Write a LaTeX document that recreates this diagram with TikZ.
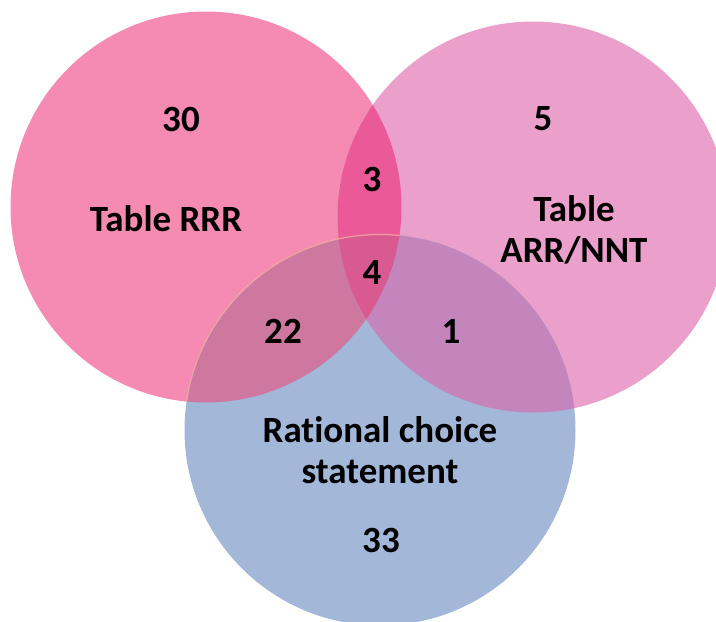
\documentclass[tikz,border=0pt]{standalone}
\usepackage{fontspec}
\setmainfont{Carlito}[RawFeature=-liga]
\definecolor{cLeft}{HTML}{F58BB2}
\definecolor{cRight}{HTML}{EAA0CB}
\definecolor{cBottom}{HTML}{A3B7D9}
\definecolor{cLR}{HTML}{EA5A98}
\definecolor{cLB}{HTML}{CE78A0}
\definecolor{cRB}{HTML}{C385BB}
\definecolor{cAll}{HTML}{D85A91}
\definecolor{cRim}{HTML}{F2AE9E}
\tikzset{
  lbl/.style={font=\fontsize{37}{41}\selectfont\bfseries, text=black, align=center, inner sep=0pt},
}
\begin{document}
\begin{tikzpicture}[x=1pt,y=-1pt]
\useasboundingbox (0,0) rectangle (716,622);
% circle centres
\coordinate (cL) at (206,207);
\coordinate (cR) at (533,217);
\coordinate (cB) at (380,430);
\def\rad{195.5pt}
% single sets
\fill[cLeft] (cL) circle (\rad);
\fill[cRight] (cR) circle (\rad);
\fill[cBottom] (cB) circle (\rad);
% pairwise overlaps
\begin{scope}
  \clip (cL) circle (\rad);
  \fill[cLR] (cR) circle (\rad);
  \fill[cLB] (cB) circle (\rad);
\end{scope}
\begin{scope}
  \clip (cR) circle (\rad);
  \fill[cRB] (cB) circle (\rad);
\end{scope}
% triple overlap
\begin{scope}
  \clip (cL) circle (\rad);
  \clip (cR) circle (\rad);
  \fill[cAll] (cB) circle (\rad);
\end{scope}
% faint rim of the lower circle over the left one
\begin{scope}
  \clip (cL) circle (\rad);
  \draw[cRim, line width=1.2pt, opacity=0.8] (cB) circle (\rad);
\end{scope}
% counts and labels
\node[lbl] (n30) at (181,119) {30};
\node[lbl] (tRRR) at (166,219) {Table RRR};
\node[lbl] (n3) at (372,179) {3};
\node[lbl] (n4) at (372,272) {4};
\node[lbl] (n5) at (543,119) {5};
\node[lbl] (tARR) at (574,230) {Table\\ARR/NNT};
\node[lbl] (n22) at (283,331) {22};
\node[lbl] (n1) at (451,331) {1};
\node[lbl] (tRC) at (380,450) {Rational choice\\statement};
\node[lbl] (n33) at (381,540) {33};
\end{tikzpicture}
\end{document}
